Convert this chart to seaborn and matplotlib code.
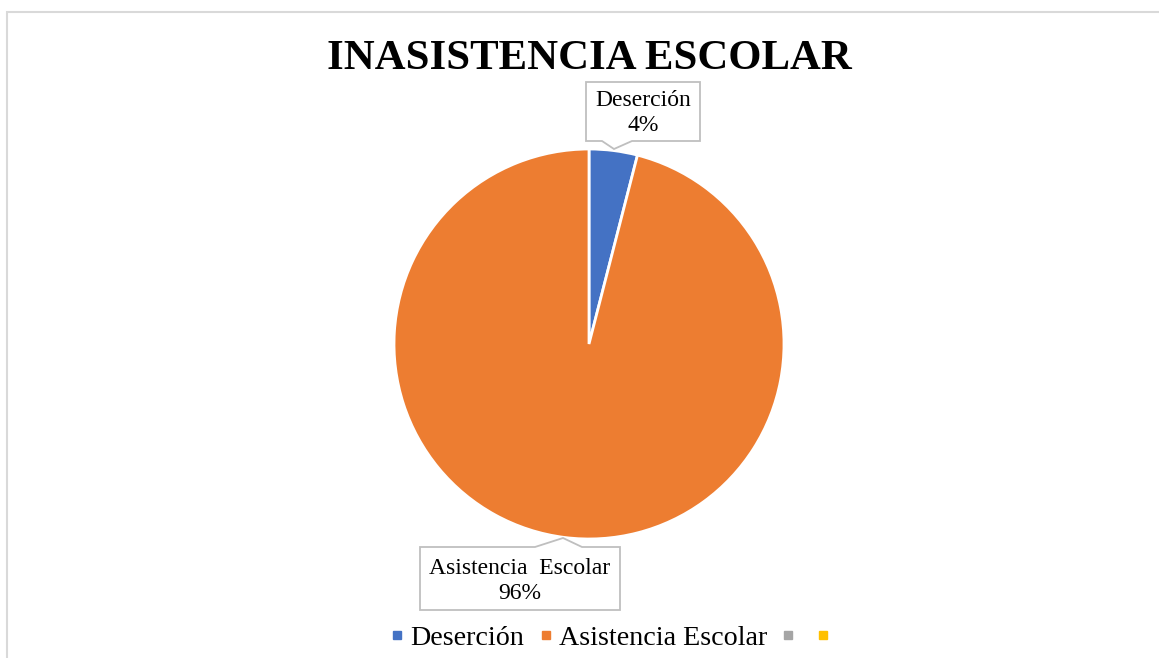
import matplotlib
matplotlib.use("Agg")
import matplotlib.pyplot as plt
import seaborn as sns
import numpy as np
from matplotlib.patches import Rectangle, Polygon
from matplotlib.lines import Line2D

# data
categories = ['Deserción', 'Asistencia Escolar', '', '']
values = [4, 96, 0, 0]
colors = ['#4472C4', '#ED7D31', '#A5A5A5', '#FFC000']
title = 'INASISTENCIA ESCOLAR'

sns.set_theme(style='white')
plt.rcParams['font.family'] = ['Liberation Serif', 'DejaVu Serif']
plt.rcParams['text.color'] = 'black'

fig = plt.figure(figsize=(11.59, 6.58), dpi=100)
W, H = 1159, 658

# light gray frame around the chart area
fig.patches.append(Rectangle((7 / W, -0.05), 1.2, 1 - 12 / H + 0.05, transform=fig.transFigure,
                             fill=False, edgecolor='#d9d9d9', linewidth=1.5))

# pie axes, center ~ (589, 344) px, radius ~195 px
cx, cy, r = 589, 344, 195
ax = fig.add_axes([(cx - r) / W, 1 - (cy + r) / H, 2 * r / W, 2 * r / H])

def px(x, y):
    # pixel position -> pie data coords
    return ((x - cx) / r, (cy - y) / r)

nz = [(c, v, col) for c, v, col in zip(categories, values, colors) if v > 0]
wedges, _ = ax.pie([v for _, v, _ in nz], colors=[col for _, _, col in nz],
                   startangle=90, counterclock=False, radius=1,
                   wedgeprops=dict(edgecolor='white', linewidth=2))
ax.set_xlim(-1, 1)
ax.set_ylim(-1, 1)
ax.set_aspect('equal')
ax.axis('off')

# callout boxes (box + pointer) and label centers, in pixels
callouts = [
    [(586, 82), (700, 82), (700, 141), (632, 141), (614, 149), (602, 141), (586, 141)],
    [(420, 547), (535, 547), (563, 538), (582, 547), (620, 547), (620, 610), (420, 610)],
]
label_pos = [(643, 113), (520, 581)]
total = sum(values)
for (c, v, _), shape, pos in zip(nz, callouts, label_pos):
    ax.add_patch(Polygon([px(*p) for p in shape], closed=True, facecolor='white',
                         edgecolor='#bfbfbf', linewidth=1.3, clip_on=False, zorder=3))
    txt = c.replace(' ', '  ')
    ax.text(*px(*pos), f'{txt}\n{v / total:.0%}', ha='center', va='center',
            fontsize=17, linespacing=1.3, zorder=4, clip_on=False)

fig.text(cx / W, 1 - 59 / H, title, ha='center', va='center',
         fontsize=30.8, fontweight='bold')

handles = [Line2D([], [], marker='s', linestyle='none', markersize=6,
                  markerfacecolor=col, markeredgecolor=col) for col in colors]
fig.legend(handles, categories, loc='center', bbox_to_anchor=(614 / W, 1 - 638 / H),
           ncol=4, frameon=False, fontsize=20.2, handlelength=0.4,
           handletextpad=0.28, columnspacing=0.55)

fig.savefig('out.png', dpi=100)
